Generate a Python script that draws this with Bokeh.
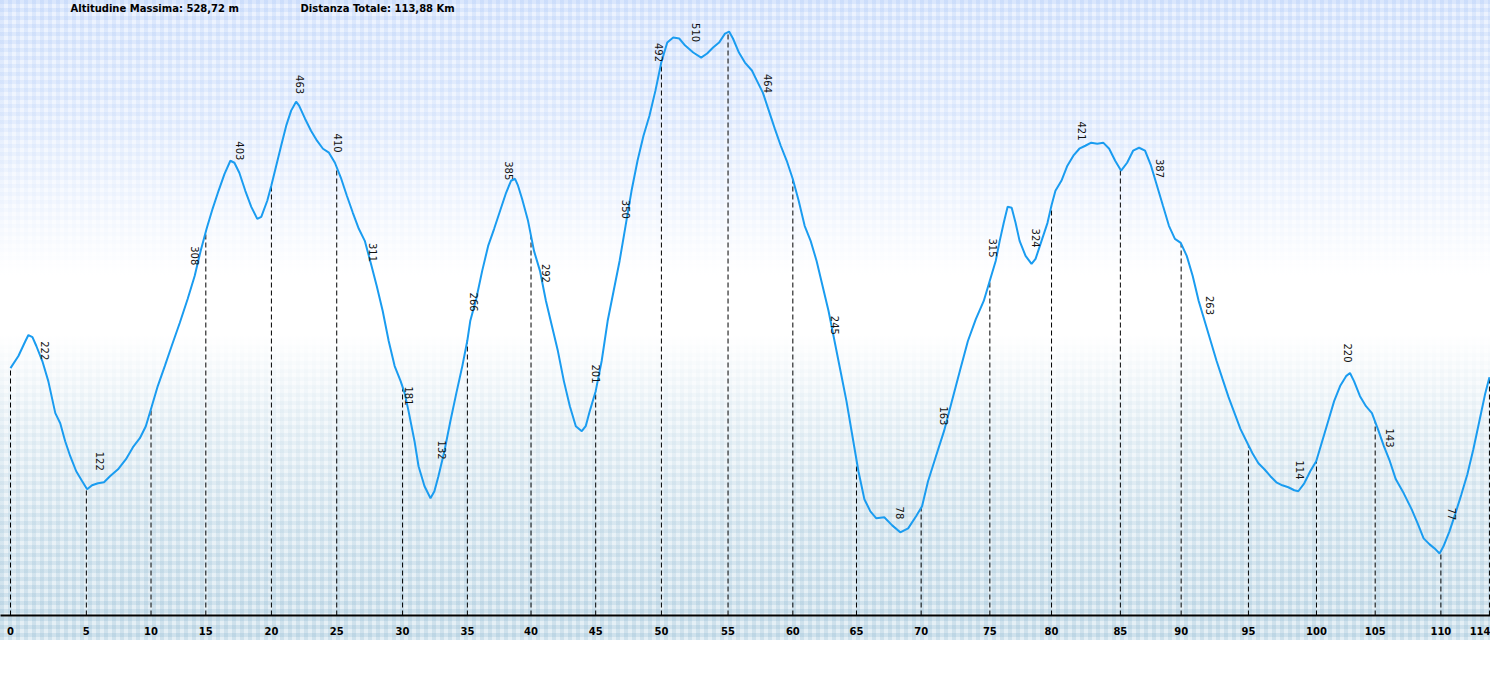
import numpy as np
from bokeh.plotting import figure
from bokeh.models import Range1d, FixedTicker, Label
from bokeh.core.properties import value
from bokeh.embed import file_html
from bokeh.resources import INLINE

# ---- profile data (distance km, elevation m) ----
dist_km = [0.00, 0.61, 1.15, 1.38, 1.69, 1.99, 2.45, 2.91, 3.45, 3.83, 4.21, 4.60, 5.06, 5.52, 5.90,
           6.28, 6.74, 7.20, 7.66, 8.28, 8.89, 9.43, 9.96, 10.42, 10.88, 11.34, 11.88, 12.41, 13.03,
           13.64, 14.18, 14.64, 15.10, 15.56, 16.02, 16.48, 16.93, 17.24, 17.62, 18.08, 18.54, 19.00,
           19.31, 19.77, 20.08, 20.46, 20.84, 21.23, 21.61, 21.99, 22.22, 22.68, 23.14, 23.60, 24.06,
           24.52, 24.98, 25.44, 25.90, 26.36, 26.82, 27.28, 27.74, 28.20, 28.66, 29.12, 29.58, 30.04,
           30.35, 30.65, 31.11, 31.42, 31.88, 32.34, 32.64, 32.95, 33.41, 33.87, 34.33, 34.79, 35.17,
           35.40, 35.86, 36.32, 36.78, 37.24, 37.70, 38.16, 38.54, 38.85, 39.08, 39.39, 39.85, 40.31,
           40.77, 41.23, 41.69, 42.15, 42.61, 43.07, 43.53, 43.99, 44.29, 44.60, 45.06, 45.52, 45.98,
           46.44, 46.90, 47.36, 47.82, 48.28, 48.74, 49.20, 49.66, 50.11, 50.57, 51.03, 51.49, 51.95,
           52.57, 53.18, 53.64, 54.10, 54.56, 55.02, 55.33, 55.63, 56.09, 56.55, 57.09, 57.47, 57.93,
           58.39, 58.85, 59.31, 59.77, 60.23, 60.69, 61.15, 61.61, 62.07, 62.53, 62.99, 63.45, 63.91,
           64.37, 64.83, 65.29, 65.75, 66.21, 66.67, 67.28, 67.89, 68.51, 69.12, 69.73, 70.19, 70.65,
           71.26, 71.88, 72.49, 73.10, 73.72, 74.33, 74.94, 75.40, 75.86, 76.17, 76.48, 76.78, 77.09,
           77.39, 77.70, 78.16, 78.62, 78.93, 79.39, 79.85, 80.15, 80.46, 80.92, 81.38, 81.84, 82.30,
           82.76, 83.22, 83.68, 84.14, 84.60, 85.06, 85.52, 85.98, 86.44, 86.90, 87.36, 87.82, 88.28,
           88.74, 89.20, 89.66, 90.11, 90.57, 91.03, 91.49, 91.95, 92.41, 92.87, 93.33, 93.79, 94.25,
           94.71, 95.17, 95.63, 96.09, 96.55, 97.01, 97.47, 97.93, 98.39, 98.85, 99.16, 99.62, 100.08,
           100.54, 101.00, 101.46, 101.92, 102.38, 102.84, 103.14, 103.45, 103.91, 104.37, 104.83,
           105.29, 105.75, 106.21, 106.67, 107.28, 107.89, 108.35, 108.81, 109.27, 109.73, 110.04,
           110.34, 110.80, 111.26, 111.72, 112.18, 112.64, 113.10, 113.56, 113.88]

elev_m = [224.0, 234.9, 248.5, 253.9, 252.1, 244.0, 230.4, 212.2, 183.2, 174.1, 157.8, 144.2, 130.6,
          121.5, 114.3, 117.9, 119.7, 120.6, 126.1, 132.4, 141.5, 152.4, 160.5, 171.4, 189.5, 207.7,
          225.8, 244.0, 264.8, 286.6, 307.4, 330.1, 350.1, 368.2, 384.5, 399.9, 411.7, 409.9, 400.8,
          384.5, 370.0, 359.1, 360.9, 375.5, 389.1, 407.2, 425.3, 443.5, 457.1, 465.2, 461.6, 449.8,
          438.9, 429.9, 422.6, 419.0, 409.9, 396.3, 380.0, 364.6, 350.1, 339.2, 319.2, 298.4, 275.7,
          248.5, 225.8, 212.2, 201.3, 185.0, 157.8, 135.1, 117.0, 106.1, 112.5, 126.1, 148.7, 175.9,
          201.3, 225.8, 248.5, 266.6, 286.6, 312.0, 334.6, 350.1, 366.4, 382.7, 393.6, 395.4, 389.1,
          377.3, 357.3, 330.1, 312.0, 284.8, 262.1, 239.4, 212.2, 189.5, 171.4, 166.9, 171.4, 185.0,
          203.1, 230.4, 266.6, 293.8, 321.0, 352.8, 384.5, 411.7, 434.4, 452.5, 475.2, 500.6, 518.7,
          523.3, 522.4, 516.0, 509.7, 505.1, 508.8, 514.2, 518.7, 526.9, 528.7, 522.4, 509.7, 500.6,
          493.4, 484.3, 473.4, 457.1, 440.8, 425.3, 411.7, 395.4, 375.5, 352.8, 339.2, 321.0, 298.4,
          275.7, 248.5, 221.3, 194.1, 162.3, 130.6, 105.2, 94.3, 88.0, 88.9, 81.6, 75.3, 78.9, 89.8,
          98.9, 121.5, 144.2, 166.9, 194.1, 221.3, 248.5, 268.4, 284.8, 302.9, 321.0, 339.2, 355.5,
          370.0, 369.1, 355.5, 339.2, 325.6, 318.3, 322.9, 339.2, 355.5, 370.9, 384.5, 393.6, 407.2,
          416.3, 422.6, 425.3, 428.1, 427.2, 428.1, 422.6, 411.7, 402.7, 409.9, 420.8, 423.5, 420.8,
          407.2, 389.1, 370.9, 352.8, 341.0, 337.4, 325.6, 307.4, 284.8, 266.6, 248.5, 230.4, 214.0,
          197.7, 183.2, 168.7, 157.8, 146.9, 137.8, 132.4, 126.1, 120.6, 117.9, 116.1, 113.4, 112.5,
          119.7, 130.6, 139.7, 157.8, 175.9, 194.1, 207.7, 216.7, 219.5, 212.2, 198.6, 189.5, 183.2,
          168.7, 153.3, 139.7, 123.3, 110.6, 96.1, 83.4, 69.8, 64.4, 59.9, 56.2, 62.6, 76.2, 92.5,
          109.7, 127.9, 150.5, 175.9, 201.3, 215.8]

# ---- distance markers (dashed drops + axis labels) ----
tick_km = [0.0, 5.84, 10.82, 15.04, 20.09, 25.12, 30.19, 35.18, 40.08, 45.06, 50.12, 55.25,
           60.24, 65.14, 70.12, 75.41, 80.16, 85.46, 90.14, 95.32, 100.56, 105.08, 110.14, 113.88]
tick_labels = ["0", "5", "10", "15", "20", "25", "30", "35", "40", "45", "50", "55", "60",
               "65", "70", "75", "80", "85", "90", "95", "100", "105", "110", "114"]

# ---- elevation annotations ----
label_km = [2.68, 6.90, 14.18, 17.70, 22.30, 25.21, 27.89, 30.65, 33.26, 35.71, 38.39, 41.23,
            45.06, 47.36, 49.96, 52.80, 58.31, 63.45, 68.51, 71.88, 75.63, 79.00, 82.53, 88.51,
            92.34, 99.31, 102.99, 106.21, 110.96]
label_m = [222, 122, 308, 403, 463, 410, 311, 181, 132, 266, 385, 292, 201, 350, 492, 510, 464,
           245, 78, 163, 315, 324, 421, 387, 263, 114, 220, 143, 77]

max_altitude = "528,72"
total_distance = "113,88"

bg = ("linear-gradient(to bottom, rgba(255,255,255,0) 0px, rgba(255,255,255,0.25) 110px, "
      "rgba(255,255,255,0.7) 210px, rgba(255,255,255,1) 275px, rgba(255,255,255,1) 335px, "
      "rgba(255,255,255,0.55) 420px, rgba(255,255,255,0.2) 520px, rgba(255,255,255,0) 615px), "
      "repeating-linear-gradient(to right, rgba(150,185,245,0.2) 0px 4px, rgba(0,0,0,0) 4px 8px), "
      "repeating-linear-gradient(to bottom, rgba(150,185,245,0.2) 0px 4px, rgba(0,0,0,0) 4px 8px), "
      "repeating-linear-gradient(to right, rgba(120,170,200,0.2) 0px 4px, rgba(0,0,0,0) 4px 8px), "
      "repeating-linear-gradient(to bottom, rgba(120,170,200,0.2) 0px 4px, rgba(0,0,0,0) 4px 8px), "
      "linear-gradient(to bottom, #ebf2fe 0px, #ebf2fe 300px, #e6f0f6 330px, #e4eff5 100%)")

p = figure(width=1490, height=640, x_range=Range1d(-0.770, 113.96), y_range=Range1d(0, 556.8),
           output_backend="svg", toolbar_location=None, title=None, y_axis_location=None,
           min_border_left=0, min_border_right=0, min_border_top=0, min_border_bottom=25)
p.styles = {
    "background-image": bg,
    "background-size": "100% 100%, 100% 305px, 100% 305px, 100% 335px, 100% 335px, 100% 100%",
    "background-position": "0 0, 0 0, 0 0, 0 100%, 0 100%, 0 0",
    "background-repeat": "no-repeat",
}
p.background_fill_alpha = 0
p.border_fill_alpha = 0
p.outline_line_color = None
p.grid.visible = False

drop_top = np.interp(tick_km, dist_km, elev_m)
p.segment(x0=tick_km, y0=[0] * len(tick_km), x1=tick_km, y1=drop_top,
          line_color="black", line_width=1, line_dash="5 3")

p.line(dist_km, elev_m, line_color="#1a9cf0", line_width=2)

p.text(x=label_km, y=label_m, text=[str(v) for v in label_m], angle=-np.pi / 2,
       text_align="right", text_baseline="middle", y_offset=-10,
       text_font=value("DejaVu Sans"), text_font_size="10px", text_color="#111111")

ax = p.xaxis[0]
ax.ticker = FixedTicker(ticks=tick_km)
ax.major_label_overrides = {t: l for t, l in zip(tick_km, tick_labels)}
ax.axis_line_color = "black"
ax.axis_line_width = 2
ax.major_tick_line_color = None
ax.minor_tick_line_color = None
ax.major_label_standoff = 5
ax.major_label_text_font = "DejaVu Sans"
ax.major_label_text_font_style = "bold"
ax.major_label_text_font_size = "10px"
ax.major_label_text_color = "black"

p.add_layout(Label(x=4.62, y=549.6, text="Altitudine Massima: " + max_altitude + " m",
                   text_font="DejaVu Sans", text_font_style="bold", text_font_size="10px",
                   text_baseline="middle", text_color="black"))
p.add_layout(Label(x=22.33, y=549.6, text="Distanza Totale: " + total_distance + " Km",
                   text_font="DejaVu Sans", text_font_style="bold", text_font_size="10px",
                   text_baseline="middle", text_color="black"))

open("out.html", "w").write(file_html(p, INLINE))
